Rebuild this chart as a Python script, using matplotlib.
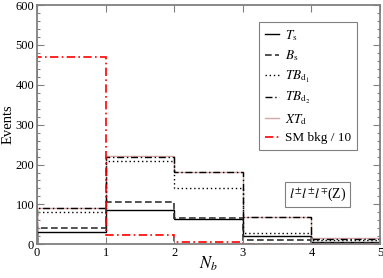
import numpy as np
import matplotlib.pyplot as plt
from matplotlib.ticker import MultipleLocator
from matplotlib.lines import Line2D

edges = [0, 1, 2, 3, 4, 5]
ts = [30, 86, 64, 22, 6]
bs = [42, 107, 67, 11, 4]
tbd1 = [80, 209, 142, 28, 11]
tbd2 = [90, 220, 181, 68, 14]
xtd = [91, 221, 182, 69, 15]
sm_bkg = [470, 23, 5, 2, 1]

plt.rcParams['font.family'] = 'serif'
plt.rcParams['font.serif'] = ['Liberation Serif', 'DejaVu Serif']
plt.rcParams['mathtext.fontset'] = 'stix'
plt.rcParams['font.size'] = 9

fig = plt.figure(figsize=(3.83, 2.78), dpi=100)
ax = fig.add_axes([37/383, 1-244.3/278, 343/383, 239.3/278])

pink = '#d4a8a8'
ax.stairs(xtd, edges, color=pink, lw=1.0)
ax.stairs(ts, edges, color='black', lw=1.0)
ax.stairs(bs, edges, color='#333333', lw=1.2, ls=(0, (4, 2)))
ax.stairs(tbd1, edges, color='black', lw=1.0, ls=(0, (1, 2)))
ax.stairs(tbd2, edges, color='black', lw=1.0, ls=(0, (5, 2, 1, 2)))
ax.stairs(sm_bkg, edges, color='red', lw=1.2, ls=(0, (5, 2, 1, 2)))

ax.set_xlim(0, 5)
ax.set_ylim(0, 600)
ax.xaxis.set_major_locator(MultipleLocator(1))
ax.yaxis.set_major_locator(MultipleLocator(100))
ax.yaxis.set_minor_locator(MultipleLocator(20))
ax.tick_params(which='both', direction='in', top=True, right=True, color='#808080')
ax.tick_params(which='major', length=5, width=0.8, labelsize=9, pad=2)
ax.tick_params(which='minor', length=2.5, width=0.8)
ax.tick_params(axis='x', which='minor', bottom=False, top=False)
for s in ax.spines.values():
    s.set_color('#808080')
    s.set_linewidth(1.3)

ax.set_ylabel('Events', fontsize=10.5)
ax.yaxis.set_label_coords(-0.065, 0.5)
ax.set_xlabel(r'$N_b$', fontsize=12)
ax.xaxis.set_label_coords(0.5, -0.045)

handles = [
    Line2D([], [], color='black', lw=1.0),
    Line2D([], [], color='#333333', lw=1.2, ls=(0, (4, 2))),
    Line2D([], [], color='black', lw=1.0, ls=(0, (1, 2))),
    Line2D([], [], color='black', lw=1.0, ls=(0, (5, 2, 1, 2))),
    Line2D([], [], color=pink, lw=1.0),
    Line2D([], [], color='red', lw=1.2, ls=(0, (5, 2, 1, 2))),
]
labels = [r'$T_{\rm s}$', r'$B_{\rm s}$', r'$TB_{{\rm d}_1}$', r'$TB_{{\rm d}_2}$',
          r'$XT_{\rm d}$', 'SM bkg / 10']
leg = ax.legend(handles, labels, loc='upper left', bbox_to_anchor=(259/383, 1-22/278),
                bbox_transform=fig.transFigure, fancybox=False, edgecolor='#808080',
                framealpha=1, handlelength=1.1, handletextpad=0.4, labelspacing=0.42,
                borderpad=0.45, borderaxespad=0, fontsize=9.5)
leg.get_frame().set_linewidth(0.8)

ax.text(317.5/383, 1-194.5/278, r'$l^{\pm}l^{\pm}l^{\mp}$(Z)', transform=fig.transFigure,
        ha='center', va='center', fontsize=10,
        bbox=dict(boxstyle='square,pad=0.3', fc='white', ec='#808080', lw=0.8))

fig.savefig('out.png', dpi=100)
